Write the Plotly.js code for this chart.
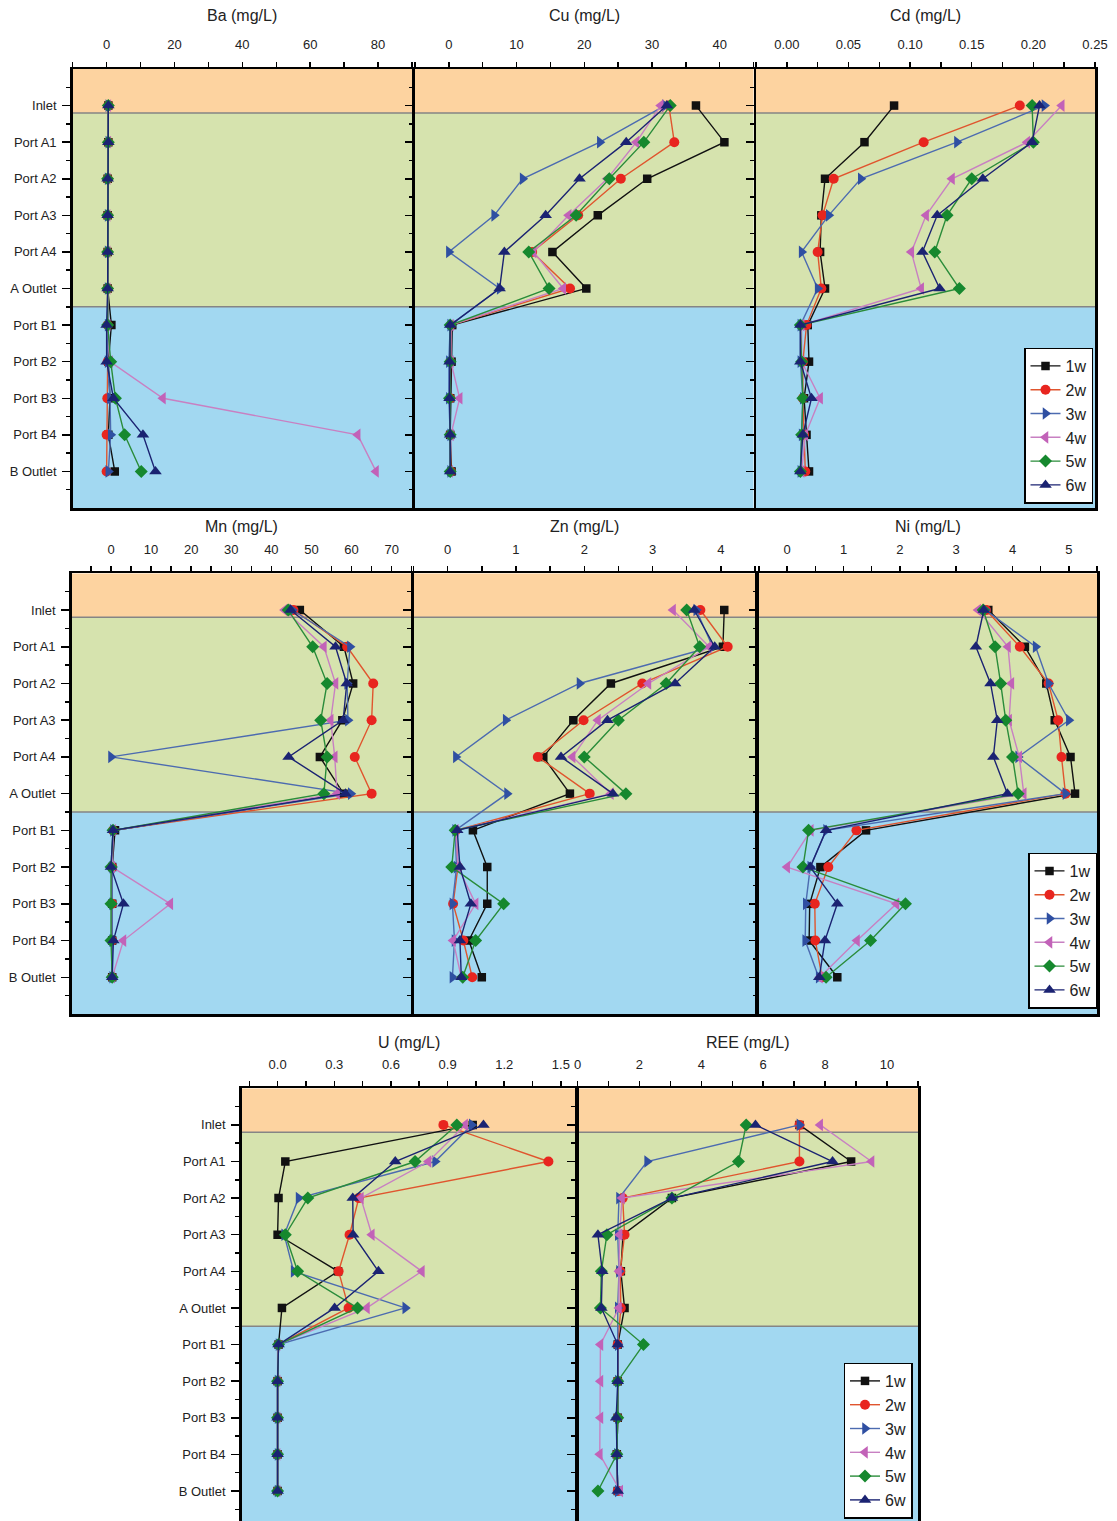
<!DOCTYPE html>
<html>
<head>
<meta charset="utf-8">
<script src="https://cdn.plot.ly/plotly-3.0.1.min.js"></script>
<style>html,body{margin:0;padding:0;background:#fff;}#chart{width:1117px;height:1521px;}</style>
</head>
<body>
<div id="chart"></div>
<script>
// ---------- DATA ----------
const categories = ['Inlet','Port A1','Port A2','Port A3','Port A4','A Outlet','Port B1','Port B2','Port B3','Port B4','B Outlet'];
const weeks = ['1w','2w','3w','4w','5w','6w'];

// each element: rows = weeks 1w..6w, columns = categories
const ba = [
  [0.5,0.5,0.3,0.3,0.3,0.3,1.4,0.5,1.0,0.5,2.4],
  [0.5,0.5,0.3,0.3,0.3,0.3,0.3,0.3,0.2,0.0,0.0],
  [0.5,0.5,0.3,0.3,0.3,0.3,0.3,0.3,1.0,1.2,0.5],
  [0.5,0.5,0.3,0.3,0.3,0.3,0.3,1.0,16.6,74.0,79.4],
  [0.5,0.5,0.3,0.3,0.3,0.3,0.3,1.2,2.6,5.3,10.2],
  [0.5,0.5,0.3,0.3,0.3,0.3,0.0,0.0,2.0,10.7,14.4]
];
const cu = [
  [36.5,40.7,29.3,22.0,15.3,20.3,0.5,0.4,0.2,0.2,0.4],
  [32.5,33.3,25.4,19.1,12.3,17.9,0.3,0.2,0.2,0.2,0.3],
  [31.9,22.3,10.9,6.7,0.0,7.5,0.2,0.0,0.0,0.2,0.2],
  [31.3,27.7,23.4,17.7,12.5,16.9,0.3,0.3,1.6,0.3,0.2],
  [32.7,28.8,23.7,18.8,11.8,14.8,0.2,0.2,0.1,0.2,0.2],
  [32.2,26.2,19.3,14.3,8.2,7.5,0.2,0.1,0.1,0.2,0.2]
];
const cd = [
  [0.087,0.063,0.031,0.028,0.027,0.031,0.017,0.018,0.014,0.016,0.018],
  [0.189,0.111,0.038,0.029,0.025,0.028,0.016,0.013,0.013,0.014,0.015],
  [0.209,0.138,0.060,0.034,0.012,0.025,0.011,0.011,0.013,0.012,0.011],
  [0.223,0.195,0.134,0.113,0.101,0.109,0.012,0.012,0.027,0.015,0.012],
  [0.199,0.200,0.150,0.130,0.120,0.140,0.011,0.012,0.013,0.012,0.011],
  [0.205,0.199,0.159,0.122,0.110,0.124,0.011,0.011,0.020,0.013,0.011]
];
const mn = [
  [47.1,58.1,60.4,57.7,52.1,58.0,1.0,0.3,0.3,0.3,0.3],
  [45.5,58.9,65.4,65.0,60.8,65.0,0.5,0.3,0.3,0.3,0.3],
  [45.2,59.6,58.9,59.1,0.0,59.8,0.5,0.3,0.3,0.3,0.3],
  [43.3,53.1,56.0,54.8,55.8,56.4,0.5,0.3,14.8,3.1,0.3],
  [44.2,50.3,53.9,52.3,53.9,53.1,0.5,0.0,0.0,0.0,0.3],
  [44.8,56.0,58.8,57.9,44.3,58.5,0.5,0.0,3.1,0.6,0.3]
];
const zn = [
  [4.05,4.03,2.39,1.84,1.40,1.79,0.37,0.58,0.58,0.31,0.50],
  [3.70,4.10,2.85,1.99,1.32,2.08,0.12,0.15,0.08,0.23,0.36],
  [3.64,3.88,1.93,0.85,0.12,0.87,0.11,0.13,0.07,0.10,0.07],
  [3.30,3.83,2.94,2.20,1.83,2.39,0.12,0.15,0.41,0.08,0.20],
  [3.50,3.69,3.20,2.50,2.00,2.61,0.11,0.06,0.82,0.41,0.22],
  [3.61,3.91,3.33,2.34,1.66,2.42,0.14,0.18,0.34,0.18,0.20]
];
const ni = [
  [3.57,4.22,4.60,4.75,5.03,5.11,1.40,0.59,0.40,0.39,0.89],
  [3.53,4.13,4.64,4.81,4.87,4.94,1.23,0.73,0.49,0.50,0.62],
  [3.52,4.41,4.64,5.00,4.10,4.94,0.69,0.41,0.33,0.32,0.56],
  [3.39,3.92,3.98,3.94,4.12,4.20,0.42,0.00,1.94,1.24,0.58],
  [3.48,3.69,3.79,3.88,4.00,4.10,0.38,0.28,2.10,1.48,0.69],
  [3.49,3.35,3.61,3.73,3.66,3.91,0.69,0.41,0.89,0.67,0.57]
];
const u = [
  [1.033,0.041,0.005,0.000,0.320,0.023,0.005,0.000,0.000,0.000,0.000],
  [0.878,1.434,0.430,0.381,0.323,0.376,0.005,0.000,0.000,0.000,0.000],
  [1.028,0.834,0.111,0.035,0.085,0.676,0.005,0.000,0.000,0.000,0.000],
  [0.993,0.799,0.441,0.499,0.764,0.473,0.000,0.000,0.000,0.000,0.000],
  [0.949,0.728,0.160,0.041,0.106,0.423,0.005,0.000,0.000,0.000,0.000],
  [1.090,0.623,0.398,0.400,0.534,0.302,0.005,0.000,0.000,0.000,0.000]
];
const ree = [
  [7.17,8.84,3.05,1.47,1.40,1.52,1.30,1.30,1.30,1.27,1.30],
  [7.17,7.17,1.46,1.52,1.38,1.40,1.30,1.30,1.30,1.27,1.30],
  [7.17,2.25,1.34,1.30,1.34,1.30,1.30,1.30,1.30,1.27,1.30],
  [7.84,9.50,1.44,1.36,1.34,1.34,0.74,0.74,0.74,0.72,1.38],
  [5.45,5.20,3.05,0.95,0.77,0.74,2.13,1.30,1.30,1.27,0.66],
  [5.75,8.24,3.05,0.66,0.80,0.77,1.30,1.30,1.25,1.27,1.30]
];

// ---------- STYLE / LAYOUT ----------
const W = 1117, H = 1521;
const fx = p => p / W, fy = p => 1 - p / H;
const FONT = 'Liberation Sans, Arial, Helvetica, sans-serif';
const markerColors = ['#111111','#e8251f','#2f4fa2','#c262b8','#16882e','#1b2372'];
const lineColors   = ['#111111','#e0552e','#4c6bb0','#c880c2','#2a8c3a','#1b2372'];
const symbols = ['square','circle','triangle-right','triangle-left','diamond','triangle-up'];
const sizes = [8.5,10,11,11,10,11];

const panels = [
  {title:'Ba (mg/L)',  data:ba,  xr:[-10,90],     dt:20,   mdt:10,    fmt:'',    xd:[72.7,412],  yd:[69,508],     yb:11,    labels:true,  legend:null},
  {title:'Cu (mg/L)',  data:cu,  xr:[-5,45],      dt:10,   mdt:5,     fmt:'',    xd:[415,753.5], yd:[69,508],     yb:11,    labels:false, legend:null},
  {title:'Cd (mg/L)',  data:cd,  xr:[-0.025,0.25],dt:0.05, mdt:0.025, fmt:'.2f', xd:[756,1095],  yd:[69,508],     yb:11,    labels:false, legend:'legend'},
  {title:'Mn (mg/L)',  data:mn,  xr:[-9.8,75],    dt:10,   mdt:5,     fmt:'',    xd:[71.7,411.7],yd:[573.3,1014], yb:11,    labels:true,  legend:null},
  {title:'Zn (mg/L)',  data:zn,  xr:[-0.5,4.5],   dt:1,    mdt:0.5,   fmt:'',    xd:[413.5,755], yd:[573.3,1014], yb:11,    labels:false, legend:null},
  {title:'Ni (mg/L)',  data:ni,  xr:[-0.5,5.5],   dt:1,    mdt:0.5,   fmt:'',    xd:[759,1097],  yd:[573.3,1014], yb:11,    labels:false, legend:'legend2'},
  {title:'U (mg/L)',   data:u,   xr:[-0.19,1.58], dt:0.3,  mdt:0.15,  fmt:'.1f', xd:[241.7,576], yd:[1088.3,1521],yb:10.82, labels:true,  legend:null, open:true},
  {title:'REE (mg/L)', data:ree, xr:[0,11],       dt:2,    mdt:1,     fmt:'',    xd:[577.5,918], yd:[1088.3,1521],yb:10.82, labels:false, legend:'legend3', open:true}
];
const titleY = [16,16,16,526,526,526,1042,1042];

const idx = categories.map((c,i)=>i);
const half = categories.map((c,i)=>i-0.5).concat([categories.length-0.5]);

const traces = [];
const layout = {
  width: W, height: H,
  margin: {l:0,r:0,t:0,b:0},
  paper_bgcolor:'#ffffff', plot_bgcolor:'#ffffff',
  font: {family: FONT, color:'#222', size:13},
  showlegend: true,
  shapes: [], annotations: []
};

panels.forEach((p, k) => {
  const n = k + 1;
  const xs = n === 1 ? '' : String(n);
  const xKey = 'x' + xs, yKey = 'y' + xs;
  p.data.forEach((vals, w) => {
    traces.push({
      type:'scatter', mode:'lines+markers',
      x: vals, y: idx,
      xaxis: xKey, yaxis: yKey,
      name: weeks[w],
      showlegend: !!p.legend,
      legend: p.legend || 'legend',
      line: {color: lineColors[w], width: 1.4},
      marker: {color: markerColors[w], symbol: symbols[w], size: sizes[w], line:{width:0}},
      hoverinfo:'x+y+name'
    });
  });
  layout['xaxis' + xs] = {
    domain: [fx(p.xd[0]), fx(p.xd[1])],
    anchor: yKey, side: 'top',
    range: p.xr, tick0: 0, dtick: p.dt, tickformat: p.fmt,
    ticks: 'outside', ticklen: 5, tickwidth: 1.5, tickcolor: '#000',
    minor: {dtick: p.mdt, tick0: 0, ticks: 'outside', ticklen: 5, tickwidth: 1.5, tickcolor:'#000', showgrid:false},
    showline: true, linewidth: 2.5, linecolor: '#000', mirror: p.open ? false : true,
    showgrid: false, zeroline: false,
    tickfont: {family: FONT, size: 13, color: '#222'},
    ticklabelstandoff: 7,
    fixedrange: true
  };
  layout['yaxis' + xs] = {
    domain: [fy(p.yd[1]), fy(p.yd[0])],
    anchor: xKey,
    range: [p.yb, -1],
    tickmode: 'array', tickvals: idx, ticktext: categories,
    showticklabels: p.labels,
    ticks: 'outside', ticklen: 8, tickwidth: 1.5, tickcolor: '#000',
    minor: {tickmode:'array', tickvals: half, ticks: 'outside', ticklen: 4, tickwidth: 1.5, tickcolor:'#000', showgrid:false},
    showline: true, linewidth: 2.5, linecolor: '#000', mirror: true,
    showgrid: false, zeroline: false,
    tickfont: {family: FONT, size: 13, color: '#222'},
    ticklabelstandoff: 3,
    fixedrange: true
  };
  // zone backgrounds: inlet / system A / system B
  const zones = [[-1, 0.2, '#fdd3a0'], [0.2, 5.5, '#d6e3ae'], [5.5, 12, '#a2d8f1']];
  zones.forEach(z => {
    layout.shapes.push({type:'rect', xref: xKey + ' domain', yref: yKey, x0:0, x1:1, y0:z[0], y1:z[1],
      fillcolor: z[2], line:{width:0}, layer:'below'});
  });
  [0.2, 5.5].forEach(b => {
    layout.shapes.push({type:'line', xref: xKey + ' domain', yref: yKey, x0:0, x1:1, y0:b, y1:b,
      line:{color:'#858585', width:1.5}, layer:'below'});
  });
  layout.annotations.push({
    text: p.title, xref:'paper', yref:'paper',
    x: fx((p.xd[0]+p.xd[1])/2), y: fy(titleY[k]), xanchor:'center', yanchor:'middle',
    showarrow:false, font:{family:FONT, size:16, color:'#222'}
  });
});

const legendBase = {
  xanchor:'right', yanchor:'bottom', bgcolor:'#ffffff', bordercolor:'#000', borderwidth:1.5,
  font:{family:FONT, size:16, color:'#222'}, tracegroupgap:0, itemwidth:30
};
layout.legend  = Object.assign({}, legendBase, {x: fx(1093), y: fy(503.5)});
layout.legend2 = Object.assign({}, legendBase, {x: fx(1097), y: fy(1008.5)});
layout.legend3 = Object.assign({}, legendBase, {x: fx(912.5), y: fy(1518.5)});

Plotly.newPlot('chart', traces, layout, {displayModeBar:false, staticPlot:true});
</script>
</body>
</html>
